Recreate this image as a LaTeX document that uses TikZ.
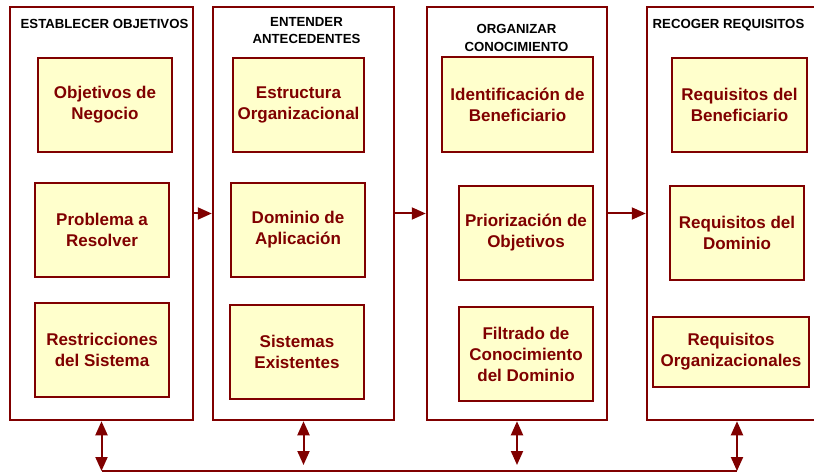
\documentclass[tikz,border=0pt]{standalone}
\usepackage{fontspec}
\setmainfont{Liberation Sans}
\usetikzlibrary{arrows.meta}
\definecolor{dred}{HTML}{800000}
\definecolor{pale}{HTML}{FFFFCC}

\begin{document}
\begin{tikzpicture}[line join=miter,>={Triangle[length=14pt,width=12pt]},x=1pt,y=-1pt,
  frame/.style={draw=dred,line width=2.5pt,inner sep=0pt,minimum height=413pt},
  hd/.style={font=\fontsize{13.2}{17.5}\selectfont\bfseries,align=center,inner sep=0pt},
  task/.style={draw=dred,line width=1.2pt,fill=pale,text=dred,inner sep=0pt,align=center,
    minimum width=134pt,minimum height=94pt,font=\fontsize{17}{21}\selectfont\bfseries},
  link/.style={draw=dred,line width=2pt}]
\useasboundingbox (0,0) rectangle (814,473);
%% phases
\node[frame,minimum width=183pt] (fr1) at (101.5,213.5) {};
\node[frame,minimum width=181pt] (fr2) at (303.5,213.5) {};
\node[frame,minimum width=180pt] (fr3) at (517,213.5) {};
\node[frame,minimum width=180pt] (fr4) at (737,213.5) {};
\node[hd] (hd1) at (104.5,24) {ESTABLECER OBJETIVOS};
\node[hd] (hd2) at (306.5,30.5) {ENTENDER\\ANTECEDENTES};
\node[hd] (hd3) at (516.5,38) {ORGANIZAR\\CONOCIMIENTO};
\node[hd] (hd4) at (728.5,25) {RECOGER REQUISITOS};
%% activities
\node[task] (t11) at (105,105) {Objetivos de\\Negocio};
\node[task] (t12) at (102,230) {Problema a\\Resolver};
\node[task] (t13) at (102,350) {Restricciones\\del Sistema};
\node[task,minimum width=131pt] (t21) at (298.5,105) {Estructura\\Organizacional};
\node[task] (t22) at (298,230) {Dominio de\\Aplicación};
\node[task] (t23) at (297,352) {Sistemas\\Existentes};
\node[task,minimum width=151pt,minimum height=95pt] (t31) at (517.5,104.5) {Identificación de\\Beneficiario};
\node[task] (t32) at (526,233) {Priorización de\\Objetivos};
\node[task] (t33) at (526,354) {Filtrado de\\Conocimiento\\del Dominio};
\node[task,minimum width=135pt] (t41) at (739.5,105) {Requisitos del\\Beneficiario};
\node[task] (t42) at (737,233) {Requisitos del\\Dominio};
\node[task,minimum width=156pt,minimum height=70pt] (t43) at (731,352) {Requisitos\\Organizacionales};
%% flow
\draw[link,->] (fr1.east) -- (fr2.west);
\draw[link,->] (fr2.east) -- (fr3.west);
\draw[link,->] (fr3.east) -- (fr4.west);
%% feedback bus
\coordinate (bus1) at (fr1.south |- 0,471);
\coordinate (bus2) at (fr2.south |- 0,471);
\coordinate (bus3) at (fr3.south |- 0,471);
\coordinate (bus4) at (fr4.south |- 0,471);
\draw[link] (bus1) -- (bus4);
\draw[link,<->] (fr1.south) -- (bus1);
\draw[link,<->,shorten >=6pt] (fr2.south) -- (bus2);
\draw[link,<->,shorten >=6pt] (fr3.south) -- (bus3);
\draw[link,<->] (fr4.south) -- (bus4);
\end{tikzpicture}
\end{document}
